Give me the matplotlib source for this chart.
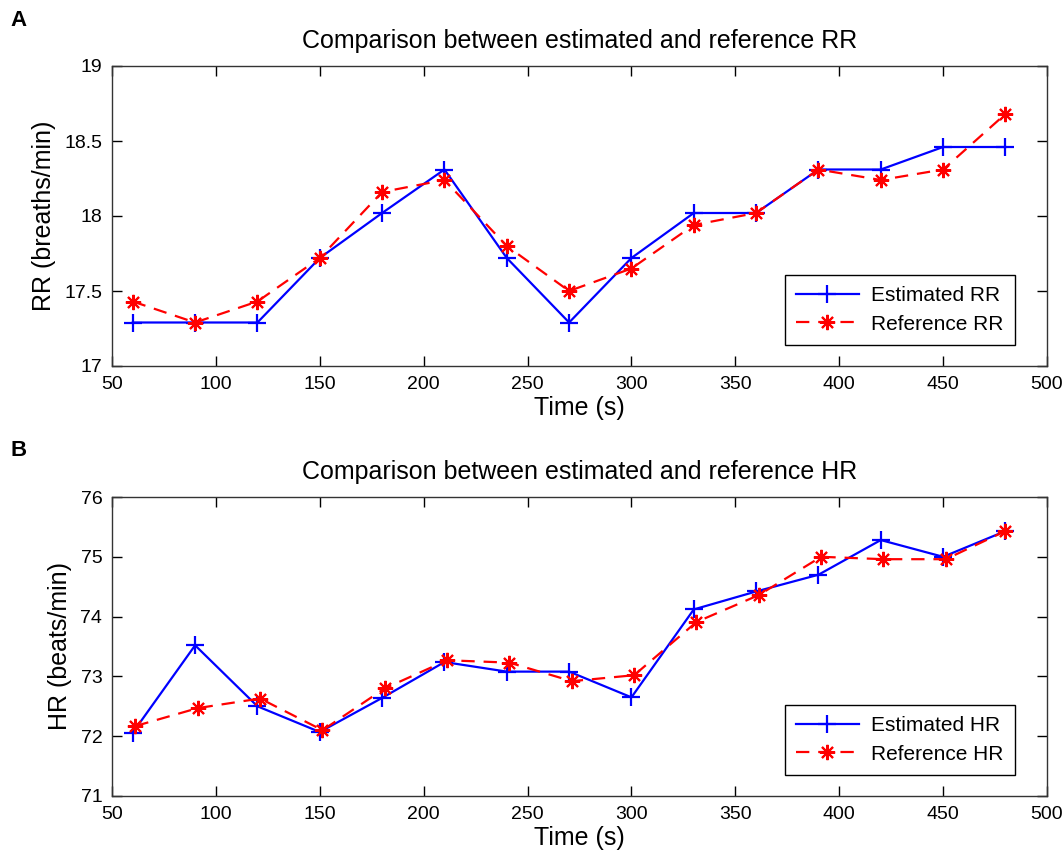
import matplotlib
matplotlib.use('Agg')
import matplotlib.pyplot as plt
import numpy as np

plt.rcParams['font.family'] = ['Liberation Sans', 'DejaVu Sans']

# Time axis (s)
time_est = [60, 90, 120, 150, 180, 210, 240, 270, 300, 330, 360, 390, 420, 450, 480]
time_ref_hr = [61.3, 91.3, 121.3, 151.3, 181.3, 211.3, 241.3, 271.3, 301.3, 331.3,
               361.3, 391.3, 421.3, 451.3, 480]

# Respiratory rate (breaths/min)
rr_est = [17.29, 17.29, 17.29, 17.72, 18.02, 18.31, 17.72, 17.29, 17.72, 18.02,
          18.02, 18.31, 18.31, 18.46, 18.46]
rr_ref = [17.43, 17.29, 17.43, 17.72, 18.16, 18.24, 17.80, 17.50, 17.65, 17.94,
          18.02, 18.31, 18.24, 18.31, 18.68]

# Heart rate (beats/min)
hr_est = [72.06, 73.52, 72.50, 72.07, 72.64, 73.24, 73.08, 73.08, 72.65, 74.12,
          74.42, 74.70, 75.28, 75.00, 75.43]
hr_ref = [72.17, 72.47, 72.63, 72.10, 72.80, 73.27, 73.23, 72.92, 73.02, 73.91,
          74.36, 75.00, 74.96, 74.96, 75.43]

STAR = (8, 2, 0)  # MATLAB-like asterisk


def style_axes(ax):
    ax.tick_params(direction='in', length=7, width=1, labelsize=14,
                   top=True, right=True, pad=7)
    for s in ax.spines.values():
        s.set_linewidth(1)
        s.set_color('#333333')


def draw_panel(ax, t_ref, est, ref, name, ylabel, ylim, yticks, yticklabels):
    ax.plot(time_est, est, color='#0000ff', linestyle='-', marker='+',
            markersize=13, markeredgewidth=1.6, linewidth=1.6,
            label='Estimated ' + name)
    ax.plot(t_ref, ref, color='#ff0000', linestyle=(0, (6, 4)), marker=STAR,
            markersize=11, markeredgewidth=1.5, linewidth=1.6,
            label='Reference ' + name)
    ax.set_xlim(50, 500)
    ax.set_ylim(*ylim)
    ax.set_xticks(np.arange(50, 501, 50))
    ax.set_yticks(yticks)
    ax.set_yticklabels(yticklabels)
    ax.set_xlabel('Time (s)', fontsize=18, labelpad=2)
    ax.set_ylabel(ylabel, fontsize=18, labelpad=6)
    ax.set_title('Comparison between estimated and reference ' + name,
                 fontsize=18, pad=13)
    style_axes(ax)
    leg = ax.legend(loc='lower right', bbox_to_anchor=(0.977, 0.035), fontsize=15,
                    fancybox=False, edgecolor='black', framealpha=1,
                    handlelength=3.0, borderpad=0.55, labelspacing=0.45,
                    handletextpad=0.6)
    leg.get_frame().set_linewidth(1)


fig = plt.figure(figsize=(10.64, 8.56), dpi=100)

# Panel A
ax1 = fig.add_axes([112 / 1064, 1 - 366 / 856, 935 / 1064, 300 / 856])
draw_panel(ax1, time_est, rr_est, rr_ref, 'RR', 'RR (breaths/min)', (17, 19),
           [17, 17.5, 18, 18.5, 19], ['17', '17.5', '18', '18.5', '19'])

# Panel B
ax2 = fig.add_axes([112 / 1064, 1 - 796 / 856, 935 / 1064, 299 / 856])
draw_panel(ax2, time_ref_hr, hr_est, hr_ref, 'HR', 'HR (beats/min)', (71, 76),
           np.arange(71, 77, 1), [str(v) for v in range(71, 77)])

fig.text(10 / 1064, 1 - 21 / 856, 'A', fontsize=16, fontweight='bold', va='center')
fig.text(10 / 1064, 1 - 450 / 856, 'B', fontsize=16, fontweight='bold', va='center')

fig.savefig('out.png', dpi=100)
